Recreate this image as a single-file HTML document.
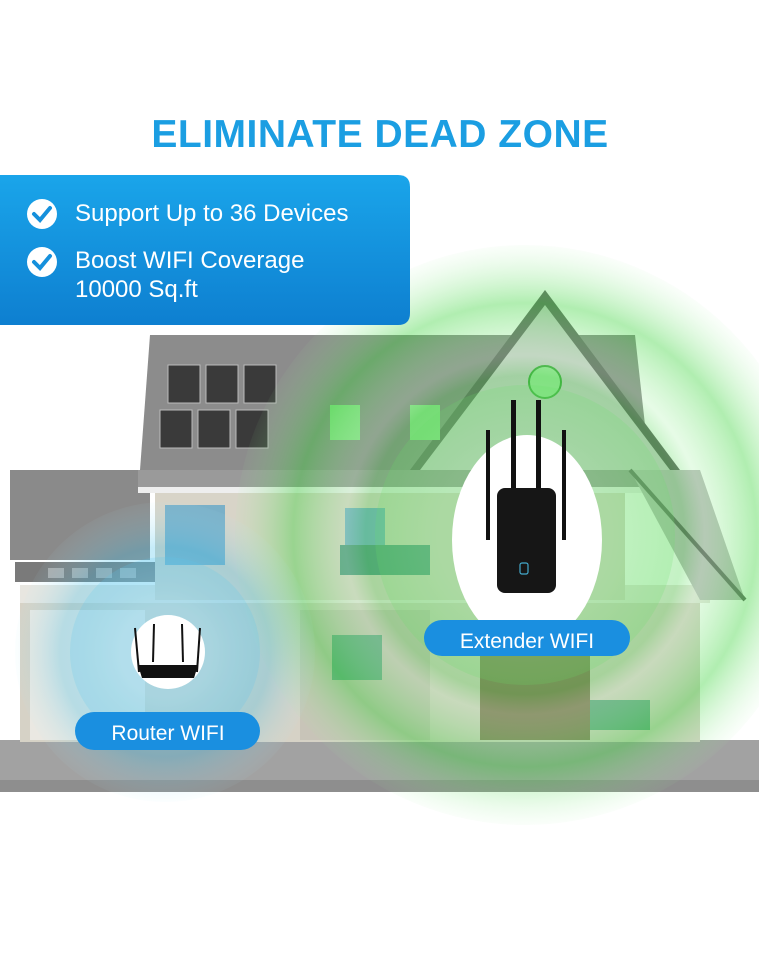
<!DOCTYPE html>
<html><head><style>
body{margin:0;width:759px;height:960px;background:#fff;overflow:hidden;font-family:"Liberation Sans",sans-serif}
</style></head><body>
<svg width="759" height="960" xmlns="http://www.w3.org/2000/svg">
<defs>
<linearGradient id="bx" x1="0" y1="0" x2="0" y2="1"><stop offset="0" stop-color="#1aa5ea"/><stop offset="1" stop-color="#0e7fd0"/></linearGradient>
<radialGradient id="gr" cx="0.5" cy="0.5" r="0.5">
<stop offset="0.3" stop-color="#7be07b" stop-opacity="0.3"/><stop offset="0.55" stop-color="#3ad43a" stop-opacity="0.3"/><stop offset="0.62" stop-color="#9ef09e" stop-opacity="0.25"/><stop offset="0.8" stop-color="#3ad43a" stop-opacity="0.4"/><stop offset="1" stop-color="#a0f0a0" stop-opacity="0.05"/></radialGradient>
<radialGradient id="bl" cx="0.5" cy="0.5" r="0.5">
<stop offset="0.3" stop-color="#9fe0f5" stop-opacity="0.45"/><stop offset="0.7" stop-color="#40c0ea" stop-opacity="0.3"/><stop offset="1" stop-color="#b0e8f8" stop-opacity="0.05"/></radialGradient>
</defs>
<text x="380" y="147" text-anchor="middle" font-size="39" font-weight="bold" fill="#1b9ee2" letter-spacing="0.5">ELIMINATE DEAD ZONE</text>
<!-- house -->
<rect x="0" y="740" width="759" height="52" fill="#a2a2a2"/>
<rect x="0" y="780" width="759" height="12" fill="#8e8e8e"/>
<rect x="20" y="600" width="680" height="142" fill="#d6d2c6"/>
<rect x="20" y="585" width="690" height="18" fill="#e8e6e0"/>
<rect x="10" y="470" width="140" height="90" fill="#8a8a8a"/>
<rect x="15" y="562" width="140" height="20" fill="#7a7a7a"/>
<g fill="#aaa"><rect x="48" y="568" width="16" height="10"/><rect x="72" y="568" width="16" height="10"/><rect x="96" y="568" width="16" height="10"/><rect x="120" y="568" width="16" height="10"/></g>
<rect x="155" y="490" width="470" height="110" fill="#d8d4c8"/>
<polygon points="150,335 635,335 650,470 140,470" fill="#8c8c8c"/>
<rect x="138" y="470" width="512" height="20" fill="#9a9a9a"/>
<rect x="138" y="487" width="512" height="6" fill="#eeeeee"/>
<g fill="#3a3a3a" stroke="#bbb" stroke-width="1">
<rect x="168" y="365" width="32" height="38"/><rect x="206" y="365" width="32" height="38"/><rect x="244" y="365" width="32" height="38"/>
<rect x="160" y="410" width="32" height="38"/><rect x="198" y="410" width="32" height="38"/><rect x="236" y="410" width="32" height="38"/></g>
<polygon points="545,290 420,470 670,470" fill="#cfcfcf"/>
<polygon points="545,290 410,470 420,470 545,305 670,470 680,470" fill="#666"/>
<polygon points="630,470 700,470 745,600 700,600" fill="#bdbdbd"/>
<line x1="630" y1="470" x2="745" y2="600" stroke="#666" stroke-width="4"/>
<rect x="330" y="405" width="30" height="35" fill="#8ee08e"/><rect x="410" y="405" width="30" height="35" fill="#8ee08e"/>
<circle cx="545" cy="382" r="16" fill="#a0e8a0" stroke="#4a4" stroke-width="2"/>
<rect x="30" y="610" width="115" height="130" fill="#eae8e2"/>
<rect x="165" y="505" width="60" height="60" fill="#7ab0c8"/>
<rect x="300" y="610" width="130" height="130" fill="#c8c4b8"/>
<rect x="480" y="655" width="110" height="85" fill="#8a7a60"/>
<rect x="590" y="700" width="60" height="30" fill="#6aa88a"/>
<rect x="345" y="508" width="40" height="65" fill="#7ab0c8"/>
<rect x="332" y="635" width="50" height="45" fill="#6aa88a"/>
<rect x="340" y="545" width="90" height="30" fill="#5a9a8a"/>
<!-- waves -->
<circle cx="525" cy="535" r="290" fill="url(#gr)"/>
<circle cx="525" cy="535" r="150" fill="#6ae06a" fill-opacity="0.2"/>
<circle cx="165" cy="652" r="150" fill="url(#bl)"/>
<circle cx="165" cy="652" r="95" fill="#5ccaf0" fill-opacity="0.2"/>
<!-- extender -->
<ellipse cx="527" cy="540" rx="75" ry="105" fill="#fff"/>
<g fill="#111"><rect x="486" y="430" width="4" height="110"/><rect x="511" y="400" width="5" height="125"/><rect x="536" y="400" width="5" height="125"/><rect x="562" y="430" width="4" height="110"/></g>
<rect x="497" y="488" width="59" height="105" rx="8" fill="#161616"/>
<rect x="520" y="563" width="8" height="11" rx="2" fill="none" stroke="#4ac" stroke-width="1.2"/>
<!-- router -->
<circle cx="168" cy="652" r="37" fill="#fff"/>
<g stroke="#111" stroke-width="2"><line x1="135" y1="628" x2="139" y2="672"/><line x1="154" y1="624" x2="153" y2="662"/><line x1="182" y1="624" x2="183" y2="662"/><line x1="200" y1="628" x2="197" y2="672"/></g>
<path d="M138 665 L198 665 L194 678 L142 678Z" fill="#111"/>
<!-- labels -->
<rect x="424" y="620" width="206" height="36" rx="18" fill="#1a8fe0"/>
<text x="527" y="648" text-anchor="middle" font-size="21" fill="#fff">Extender WIFI</text>
<rect x="75" y="712" width="185" height="38" rx="19" fill="#1a8fe0"/>
<text x="168" y="740" text-anchor="middle" font-size="21" fill="#fff">Router WIFI</text>
<!-- box -->
<path d="M0 175 H398 Q410 175 410 187 V313 Q410 325 398 325 H0Z" fill="url(#bx)"/>
<g fill="#fff"><circle cx="42" cy="214" r="15"/><circle cx="42" cy="262" r="15"/></g>
<g stroke="#1590dc" stroke-width="4" fill="none" stroke-linecap="round"><polyline points="34,214 40,220 50,208"/><polyline points="34,262 40,268 50,256"/></g>
<g fill="#fff" font-size="24"><text x="75" y="221">Support Up to 36 Devices</text><text x="75" y="268">Boost WIFI Coverage</text><text x="75" y="297">10000 Sq.ft</text></g>
</svg>
</body></html>
